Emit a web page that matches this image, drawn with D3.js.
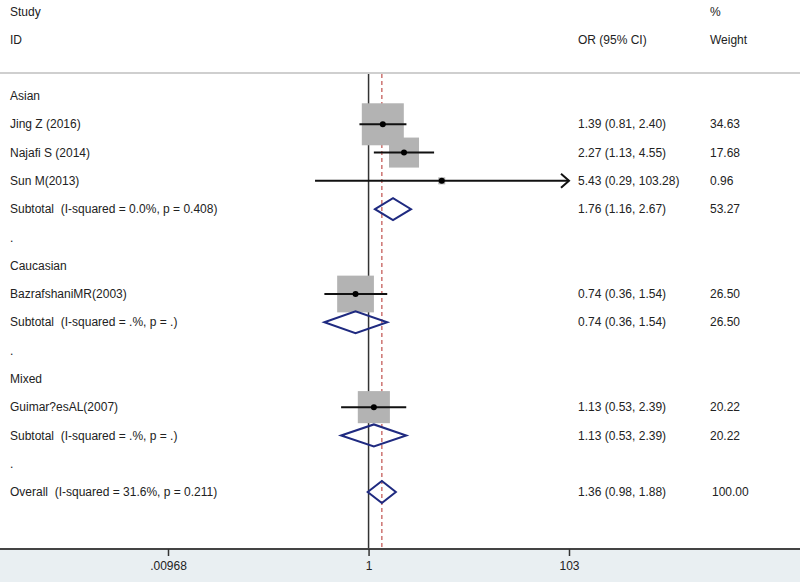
<!DOCTYPE html>
<html>
<head>
<meta charset="utf-8">
<script src="https://cdn.jsdelivr.net/npm/d3@7"></script>
<style>
  html, body { margin: 0; padding: 0; background: #fff; }
  svg { display: block; }
  text { font-family: "Liberation Sans", Arial, sans-serif; font-size: 12px; fill: #222; white-space: pre; }
</style>
</head>
<body>
<svg id="chart" width="800" height="582"></svg>
<script>
// ---- data ----
const labels = [
  "Asian",
  "Jing Z (2016)",
  "Najafi S (2014)",
  "Sun M(2013)",
  "Subtotal  (I-squared = 0.0%, p = 0.408)",
  ".",
  "Caucasian",
  "BazrafshaniMR(2003)",
  "Subtotal  (I-squared = .%, p = .)",
  ".",
  "Mixed",
  "Guimar?esAL(2007)",
  "Subtotal  (I-squared = .%, p = .)",
  ".",
  "Overall  (I-squared = 31.6%, p = 0.211)"
];
const rowTypes = ["group","study","study","study","subtotal","spacer",
                  "group","study","subtotal","spacer",
                  "group","study","subtotal","spacer","overall"];
const orValues = [null,1.39,2.27,5.43,1.76,null,null,0.74,0.74,null,null,1.13,1.13,null,1.36];
const lowerCI  = [null,0.81,1.13,0.29,1.16,null,null,0.36,0.36,null,null,0.53,0.53,null,0.98];
const upperCI  = [null,2.40,4.55,103.28,2.67,null,null,1.54,1.54,null,null,2.39,2.39,null,1.88];
const weights  = [null,34.63,17.68,0.96,53.27,null,null,26.50,26.50,null,null,20.22,20.22,null,100.00];
const tickValues = [0.00968, 1, 103];
const tickLabels = [".00968", "1", "103"];
const overallOR = 1.36;

// ---- layout ----
const svg = d3.select("#chart");
const W = 800, H = 582;
const axisY = 549;
const topRule = 73;

const x = d3.scaleLog().domain([0.00968, 103]).range([168, 569]);
const y = d3.scaleLinear().domain([0, labels.length - 1]).range([96, 492]);
const boxSize = d3.scaleSqrt().domain([0, 34.63]).range([0, 42]);
const diamondHalfH = 11;

// bottom band
svg.append("rect").attr("x", 0).attr("y", axisY).attr("width", W).attr("height", H - axisY)
  .attr("fill", "#e9eff2");

// header
const colStudy = 10, colOR = 578, colW = 710;
svg.append("text").attr("x", colStudy).attr("y", 12).attr("dy", "0.35em").text("Study");
svg.append("text").attr("x", colStudy).attr("y", 40).attr("dy", "0.35em").text("ID");
svg.append("text").attr("x", colOR).attr("y", 40).attr("dy", "0.35em").text("OR (95% CI)");
svg.append("text").attr("x", colW).attr("y", 12).attr("dy", "0.35em").text("%");
svg.append("text").attr("x", colW).attr("y", 40).attr("dy", "0.35em").text("Weight");

// top rule
svg.append("line").attr("x1", 0).attr("x2", W).attr("y1", topRule).attr("y2", topRule)
  .attr("stroke", "#cfcfcf").attr("stroke-width", 2);

// reference lines
svg.append("line").attr("x1", x(1)).attr("x2", x(1)).attr("y1", topRule + 1).attr("y2", axisY)
  .attr("stroke", "#333").attr("stroke-width", 1.5);
svg.append("line").attr("x1", x(overallOR)).attr("x2", x(overallOR)).attr("y1", topRule + 1).attr("y2", axisY)
  .attr("stroke", "#c0504d").attr("stroke-width", 1.2).attr("stroke-dasharray", "4,3");

// rows
const rows = labels.map((l, i) => ({
  label: l, type: rowTypes[i], or: orValues[i], lo: lowerCI[i], hi: upperCI[i], w: weights[i], i
}));

const g = svg.append("g");
rows.forEach(r => {
  const yy = y(r.i);
  g.append("text").attr("x", colStudy).attr("y", yy).attr("dy", "0.35em")
    .attr("xml:space", "preserve").text(r.label);
  if (r.or == null) return;
  g.append("text").attr("x", colOR).attr("y", yy).attr("dy", "0.35em")
    .text(`${r.or.toFixed(2)} (${r.lo.toFixed(2)}, ${r.hi.toFixed(2)})`);
  g.append("text").attr("x", r.w >= 100 ? colW + 2 : colW).attr("y", yy).attr("dy", "0.35em")
    .text(r.w.toFixed(2));

  if (r.type === "study") {
    const s = boxSize(r.w);
    g.append("rect").attr("x", x(r.or) - s / 2).attr("y", yy - s / 2)
      .attr("width", s).attr("height", s).attr("fill", "#b3b3b3");
    const [dMin, dMax] = x.domain();
    const loC = Math.max(r.lo, dMin), hiC = Math.min(r.hi, dMax);
    g.append("line").attr("x1", x(loC)).attr("x2", x(hiC)).attr("y1", yy).attr("y2", yy)
      .attr("stroke", "#111").attr("stroke-width", 2);
    if (r.hi > dMax) {
      const xe = x(dMax);
      g.append("path")
        .attr("d", `M${xe - 8},${yy - 7} L${xe},${yy} L${xe - 8},${yy + 7}`)
        .attr("fill", "none").attr("stroke", "#111").attr("stroke-width", 2);
    }
    g.append("circle").attr("cx", x(r.or)).attr("cy", yy).attr("r", 3).attr("fill", "#000");
  } else if (r.type === "subtotal" || r.type === "overall") {
    const pts = [[x(r.lo), yy], [x(r.or), yy - diamondHalfH], [x(r.hi), yy], [x(r.or), yy + diamondHalfH]];
    g.append("path").attr("d", "M" + pts.map(p => p.join(",")).join("L") + "Z")
      .attr("fill", "none").attr("stroke", "#1f2a80").attr("stroke-width", 2);
  }
});

// axis
svg.append("line").attr("x1", 0).attr("x2", W).attr("y1", axisY).attr("y2", axisY)
  .attr("stroke", "#444").attr("stroke-width", 2);
const axis = d3.axisBottom(x).tickValues(tickValues)
  .tickFormat((d, i) => tickLabels[i]).tickSize(7).tickPadding(5);
const ag = svg.append("g").attr("transform", `translate(0,${axisY})`).call(axis);
ag.select(".domain").remove();
ag.selectAll(".tick line").attr("stroke", "#333").attr("stroke-width", 1.5);
ag.selectAll(".tick text").attr("font-family", "Liberation Sans, Arial, sans-serif")
  .attr("font-size", 12).attr("fill", "#222");
</script>
</body>
</html>
